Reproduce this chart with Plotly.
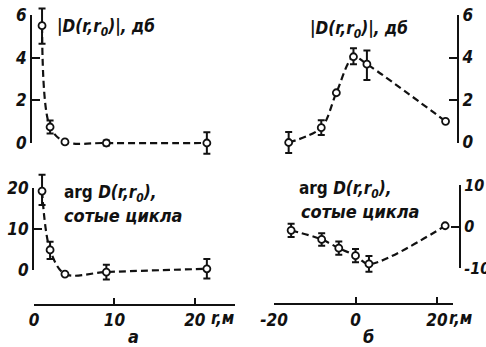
import plotly.graph_objects as go

W, H = 486, 347

# ---------------- data ----------------
r_a = [1.0, 2.0, 3.85, 9.0, 21.5]
amp_a = [5.5, 0.75, 0.05, 0.0, 0.0]
amp_a_ep = [0.8, 0.3, 0.0, 0.12, 0.5]
amp_a_em = [0.85, 0.3, 0.0, 0.12, 0.5]
arg_a = [19.3, 4.9, -1.0, -0.5, 0.3]
arg_a_ep = [4.0, 2.0, 0.0, 1.8, 2.4]
arg_a_em = [3.4, 2.2, 0.0, 1.8, 2.4]

r_b_amp = [-16.4, -8.4, -4.7, -0.5, 2.8, 22.1]
amp_b = [0.0, 0.7, 2.35, 4.05, 3.7, 1.0]
amp_b_ep = [0.5, 0.35, 0.0, 0.4, 0.65, 0.0]
amp_b_em = [0.5, 0.35, 0.0, 0.35, 0.75, 0.0]
r_b_arg = [-15.8, -8.3, -4.1, 0.0, 3.3, 22.0]
arg_b = [-0.8, -3.0, -5.1, -6.9, -8.9, 0.3]
arg_b_e = [1.6, 1.5, 1.6, 1.6, 1.9, 0.0]

xticks_a = [0, 10, 20]
xticks_b = [-20, 0, 20]
xticktext_b = ["-20", "0", "20"]
yticks_amp = [0, 2, 4, 6]
yticks_arg_a = [0, 10, 20]
yticks_arg_b = [-10, 0, 10]
yticktext_arg_b = ["-10", "0", "10"]

# ---------------- helpers ----------------
def fx(px):
    return px / W

def fy(py):
    return 1 - py / H

FONT = "Liberation Sans Narrow, DejaVu Sans Condensed, DejaVu Sans, sans-serif"
INK = "#111111"
tickfont = dict(family=FONT, size=17, color=INK, style="italic", weight="bold")

def ydom(py0, scale, lo, hi):
    return [fy(py0 - scale * lo), fy(py0 - scale * hi)]

fig = go.Figure()

line_style = dict(color=INK, width=2.2, dash="7px,4px", shape="spline", smoothing=0.9)
marker_style = dict(symbol="circle", size=7, color="white", line=dict(color=INK, width=1.8))

def add_series(x, y, ep, em, xa, ya):
    fig.add_trace(go.Scatter(
        x=x, y=y, mode="lines+markers", xaxis=xa, yaxis=ya,
        line=line_style, marker=marker_style, showlegend=False, hoverinfo="skip",
        error_y=dict(type="data", array=ep, arrayminus=em, symmetric=False,
                     color=INK, thickness=2, width=3.5),
        cliponaxis=False,
    ))

add_series(r_a, amp_a, amp_a_ep, amp_a_em, "x", "y")
add_series(r_b_amp, amp_b, amp_b_ep, amp_b_em, "x2", "y2")
add_series(r_a, arg_a, arg_a_ep, arg_a_em, "x3", "y3")
add_series(r_b_arg, arg_b, arg_b_e, arg_b_e, "x4", "y4")

# empty traces so that the axis-only subplots are created
for k in (5, 6, 7, 8):
    fig.add_trace(go.Scatter(x=[None], y=[None], xaxis=f"x{k}", yaxis=f"y{k}",
                             showlegend=False, hoverinfo="skip", mode="markers"))

hidden = dict(visible=False, fixedrange=True, automargin=False)

dom_a = [fx(34), fx(235)]
dom_b = [fx(274), fx(274 + 44 * 4.075)]

xvis = dict(showline=True, linecolor=INK, linewidth=2, ticks="inside", ticklen=6,
            tickwidth=2, tickcolor=INK, showgrid=False, zeroline=False,
            tickfont=tickfont, visible=True, automargin=False)

yvis = dict(showline=True, linecolor=INK, linewidth=2, ticks="inside", ticklen=8,
            tickwidth=2, tickcolor=INK, showgrid=False, zeroline=False,
            tickfont=tickfont, visible=True, automargin=False)

yvis8 = dict(yvis)
yvis8["tickfont"] = dict(tickfont, size=16)

fig.update_layout(
    width=W, height=H, margin=dict(l=0, r=0, t=0, b=0, autoexpand=False),
    paper_bgcolor="white", plot_bgcolor="rgba(0,0,0,0)",
    xaxis=dict(domain=dom_a, range=[0, 25], anchor="y", **hidden),
    yaxis=dict(domain=ydom(143, 21.33, -0.6, 6.7), range=[-0.6, 6.7], anchor="x", **hidden),
    xaxis2=dict(domain=dom_b, range=[-20, 24], anchor="y2", **hidden),
    yaxis2=dict(domain=ydom(142.5, 21.17, -0.7, 6.6), range=[-0.7, 6.6], anchor="x2", **hidden),
    xaxis3=dict(domain=dom_a, range=[0, 25], anchor="y3", tickvals=xticks_a, **xvis),
    yaxis3=dict(domain=ydom(270, 4.09, -8.3, 24.5), range=[-8.3, 24.5], anchor="x3", **hidden),
    xaxis4=dict(domain=dom_b, range=[-20, 24], anchor="y4", tickvals=xticks_b,
                ticktext=xticktext_b, **xvis),
    yaxis4=dict(domain=ydom(227, 4.15, -18.4, 14), range=[-18.4, 14], anchor="x4", **hidden),
    xaxis5=dict(domain=[fx(32), fx(33)], range=[0, 1], anchor="y5", **hidden),
    yaxis5=dict(domain=[fy(143), fy(15)], range=[0, 6], anchor="x5", tickvals=yticks_amp,
                side="left", **yvis),
    xaxis6=dict(domain=[fx(456), fx(457)], range=[0, 1], anchor="y6", **hidden),
    yaxis6=dict(domain=[fy(142.5), fy(15)], range=[0, 6], anchor="x6", tickvals=yticks_amp,
                side="right", **yvis),
    xaxis7=dict(domain=[fx(34), fx(35)], range=[0, 1], anchor="y7", **hidden),
    yaxis7=dict(domain=[fy(270), fy(188.3)], range=[0, 20], anchor="x7", tickvals=yticks_arg_a,
                side="left", **yvis),
    xaxis8=dict(domain=[fx(458), fx(459)], range=[0, 1], anchor="y8", **hidden),
    yaxis8=dict(domain=[fy(268), fy(185)], range=[-10, 10], anchor="x8", tickvals=yticks_arg_b,
                ticktext=yticktext_arg_b, side="right", **yvis8),
)

afont = dict(family=FONT, size=17, color=INK, weight="bold")

def note(text, xp, yp, xanchor="left", size=17):
    f = dict(afont)
    f["size"] = size
    fig.add_annotation(text=text, x=fx(xp), y=fy(yp), xref="paper", yref="paper",
                       xanchor=xanchor, yanchor="middle", showarrow=False, font=f)

amp_label = "<i>|D(r,r<sub>0</sub>)|, дб</i>"
arg_label = "arg <i>D(r,r<sub>0</sub>),</i>"
cyc_label = "<i>сотые цикла</i>"

note(amp_label, 55, 28)
note(amp_label, 308, 29)
note(arg_label, 62, 193)
note(cyc_label, 62, 215, size=18)
note(arg_label, 297, 189)
note(cyc_label, 299, 212, size=18)
note("<i>r,м</i>", 209, 318)
note("<i>r,м</i>", 447, 318)
note("<i>а</i>", 133, 336, xanchor="center", size=18)
note("<i>б</i>", 368, 336, xanchor="center", size=18)

fig.write_html(
    "out.html",
    config={"displayModeBar": False},
    post_script="document.body.style.margin='0';document.body.style.overflow='hidden';",
)
